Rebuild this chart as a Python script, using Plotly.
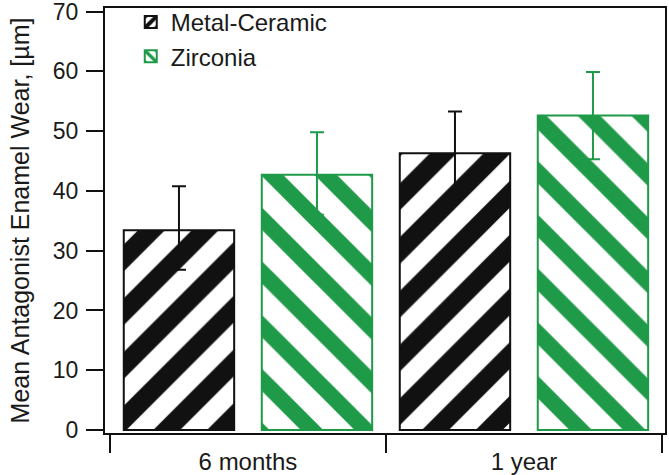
import plotly.graph_objects as go

categories = ["6 months", "1 year"]
series_names = ["Metal-Ceramic", "Zirconia"]
metal_ceramic = [33.4, 46.3]
metal_ceramic_err_plus = [7.4, 7.0]
metal_ceramic_err_minus = [6.6, 6.6]
zirconia = [42.7, 52.6]
zirconia_err_plus = [7.1, 7.3]
zirconia_err_minus = [6.7, 7.3]
y_ticks = [0, 10, 20, 30, 40, 50, 60, 70]

GREEN = "#1f9a48"
BLACK = "#111111"
FONT = "Liberation Sans, Arial, sans-serif"

xpos = list(range(len(categories)))

fig = go.Figure()
fig.add_trace(go.Bar(
    name=series_names[0], x=xpos, y=metal_ceramic,
    width=0.4, offset=-0.45,
    marker=dict(color="white", line=dict(color=BLACK, width=2),
                pattern=dict(shape="/", fgcolor=BLACK, bgcolor="white",
                             size=38, solidity=0.5, fillmode="replace")),
    error_y=dict(type="data", symmetric=False, array=metal_ceramic_err_plus,
                 arrayminus=metal_ceramic_err_minus, color=BLACK,
                 thickness=2, width=7),
))
fig.add_trace(go.Bar(
    name=series_names[1], x=xpos, y=zirconia,
    width=0.4, offset=0.05,
    marker=dict(color="white", line=dict(color=GREEN, width=2),
                pattern=dict(shape="\\", fgcolor=GREEN, bgcolor="white",
                             size=38, solidity=0.42, fillmode="replace")),
    error_y=dict(type="data", symmetric=False, array=zirconia_err_plus,
                 arrayminus=zirconia_err_minus, color=GREEN,
                 thickness=2, width=7),
))

fig.update_layout(
    width=669, height=475,
    margin=dict(l=105, r=4, t=0, b=42),
    paper_bgcolor="white", plot_bgcolor="white",
    font=dict(family=FONT, color="#1a1a1a", size=22),
    barmode="overlay",
    showlegend=True,
    legend=dict(x=0.046, y=1.0, xanchor="left", yanchor="top",
                font=dict(size=24, family=FONT), bgcolor="rgba(0,0,0,0)",
                itemwidth=30, tracegroupgap=0),
)
fig.update_xaxes(
    range=[-0.518, 1.511],
    tickvals=xpos, ticktext=categories, ticks="",
    tickfont=dict(size=24),
    ticklabelstandoff=6,
    ticklabeloverflow="allow",
    automargin=False,
    showline=True, linecolor=BLACK, linewidth=2, mirror=True,
    showgrid=False, zeroline=False,
    minor=dict(tickvals=[-0.5, 0.5, 1.5], ticks="outside", ticklen=18,
               tickwidth=2, tickcolor=BLACK, showgrid=False),
)
fig.update_yaxes(
    range=[-0.5, 70.6],
    domain=[0, 1 - 8 / 433],
    tickvals=y_ticks,
    ticks="outside", ticklen=17, tickwidth=2, tickcolor=BLACK,
    tickfont=dict(size=23),
    ticklabelstandoff=3,
    ticklabeloverflow="allow",
    automargin=False,
    showline=True, linecolor=BLACK, linewidth=2, mirror=True,
    showgrid=False, zeroline=False,
    title=dict(text="Mean Antagonist Enamel Wear, [µm]", font=dict(size=25), standoff=16),
)

fig.write_html("out.html", config={"displayModeBar": False},
               post_script="document.body.style.margin='0';")
